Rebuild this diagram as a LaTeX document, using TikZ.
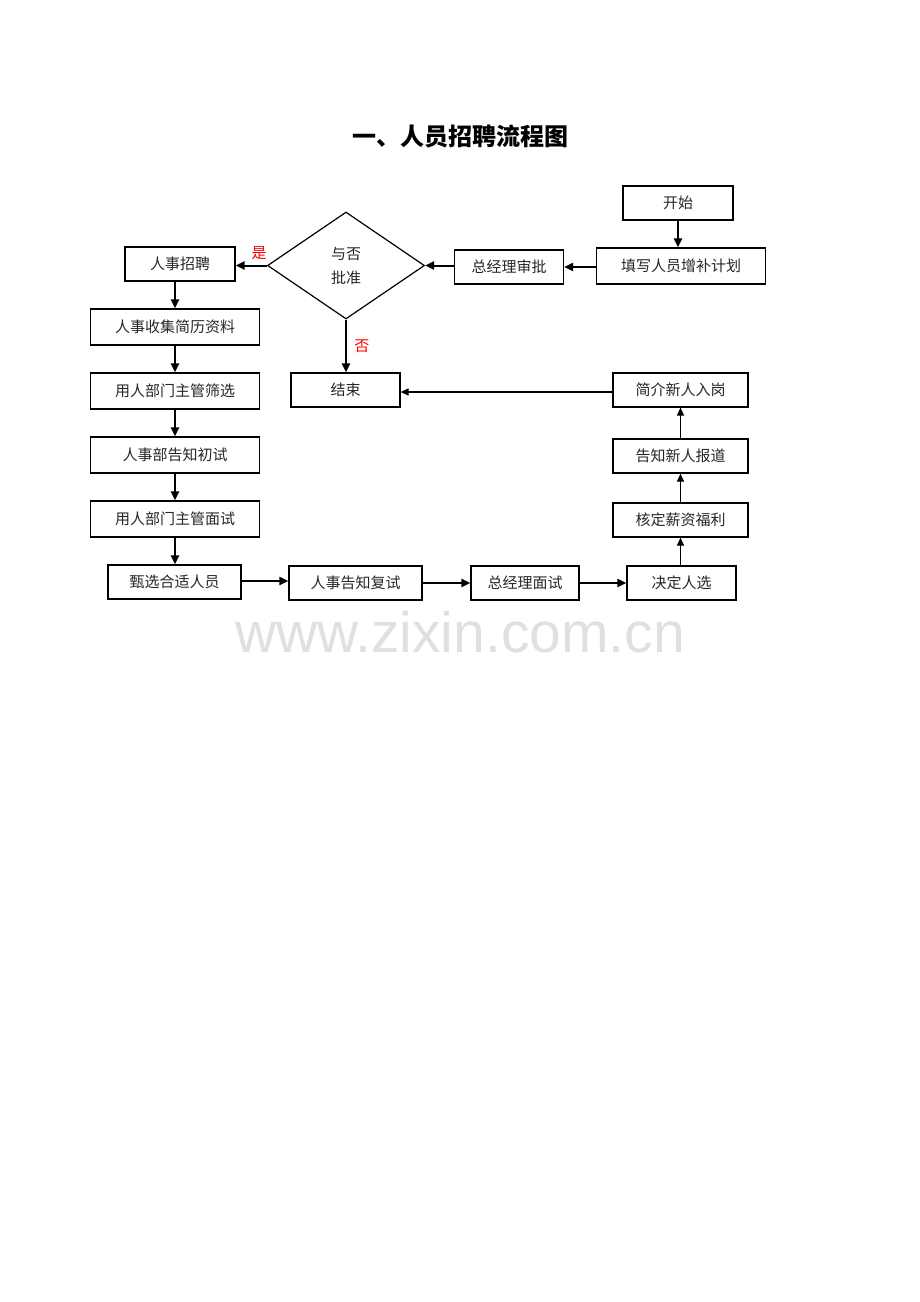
\documentclass[tikz,border=0pt]{standalone}
\usepackage{fontspec}
\setmainfont{Noto Sans CJK SC}
\newfontfamily\markfont{Liberation Sans}
\usetikzlibrary{arrows.meta,positioning,shapes.geometric}
\tikzset{
    step box/.style={draw,line width=1.2pt,rectangle,inner sep=0pt,minimum height=34pt,text=black!85},
    choice/.style={draw,line width=1.2pt,diamond,inner sep=0pt,minimum width=157pt,minimum height=107pt,align=center,text=black!85,font=\fontsize{15pt}{24pt}\selectfont},
    arr/.style={-{Triangle[length=9pt,width=8pt]},line width=2pt},
    tarr/.style={-{Triangle[length=8pt,width=7pt]},line width=1.1pt},
    answer/.style={text=red,font=\fontsize{15pt}{18pt}\selectfont},
}
\tikzstyle{every node}=[font=\fontsize{15pt}{18pt}\selectfont]

\begin{document}
\begin{tikzpicture}[x=1pt,y=-1pt]
    \useasboundingbox (0,0) rectangle (920,1302);
    \node[font=\fontsize{24pt}{28pt}\bfseries] (title) at (460,136) {一、人员招聘流程图};
    % first row, right to left
    \node[step box,minimum width=110pt] (start) at (678,203) {开始};
    \node[step box,minimum width=169pt,minimum height=36pt] (plan) at (681,266) {填写人员增补计划};
    \node[step box,minimum width=109pt] (gmcheck) at (509,267) {总经理审批};
    \node[choice] (approve) at (346,265.5) {与否\\批准};
    \node[step box,minimum width=110pt] (recruit) at (180,264) {人事招聘};
    % left column
    \node[step box,minimum width=169pt,minimum height=36pt] (collect) at (175,327) {人事收集简历资料};
    \node[step box,minimum width=169pt,minimum height=36pt] (screen) at (175,391) {用人部门主管筛选};
    \node[step box,minimum width=169pt,minimum height=36pt] (first) at (175,455) {人事部告知初试};
    \node[step box,minimum width=169pt,minimum height=36pt] (deptint) at (175,519) {用人部门主管面试};
    % bottom row
    \node[step box,minimum width=133pt] (select) at (174.5,582) {甄选合适人员};
    \node[step box,minimum width=133pt] (second) at (355.5,583) {人事告知复试};
    \node[step box,minimum width=108pt] (gmint) at (525,583) {总经理面试};
    \node[step box,minimum width=109pt] (decide) at (681.5,583) {决定人选};
    % right column
    \node[step box,minimum width=135pt] (salary) at (680.5,520) {核定薪资福利};
    \node[step box,minimum width=135pt] (notify) at (680.5,456) {告知新人报道};
    \node[step box,minimum width=135pt] (onboard) at (680.5,390) {简介新人入岗};
    \node[step box,minimum width=109pt] (finish) at (345.5,390) {结束};

    \draw[arr] (start) -- (plan.north -| start);
    \draw[arr] (plan.west |- gmcheck) -- (gmcheck.east);
    \draw[arr] (gmcheck.west |- approve.east) -- (approve.east);
    \draw[arr] (approve.west) -- (recruit.east |- approve) node[answer,pos=0.25,above,yshift=1pt] {是};
    \draw[arr] (recruit.south -| collect) -- (collect.north);
    \draw[arr] (collect) -- (screen);
    \draw[arr] (screen) -- (first);
    \draw[arr] (first) -- (deptint);
    \draw[arr] (deptint.south) -- (deptint.south |- select.north);
    \draw[arr] (approve.south) -- (approve.south |- finish.north) node[answer,midway,right,xshift=4pt] {否};
    \draw[arr] (select.east |- 0,581) -- (second.west |- 0,581);
    \draw[arr] (second) -- (gmint);
    \draw[arr] (gmint) -- (decide);
    \draw[tarr] (decide.north -| salary) -- (salary.south);
    \draw[tarr] (salary) -- (notify);
    \draw[tarr] (notify) -- (onboard);
    \draw[tarr] (onboard.west |- 0,392) -- (finish.east |- 0,392);

    \node[font=\markfont\fontsize{57pt}{60pt}\selectfont,text=black!12] (mark) at (460,632) {www.zixin.com.cn};
\end{tikzpicture}
\end{document}
